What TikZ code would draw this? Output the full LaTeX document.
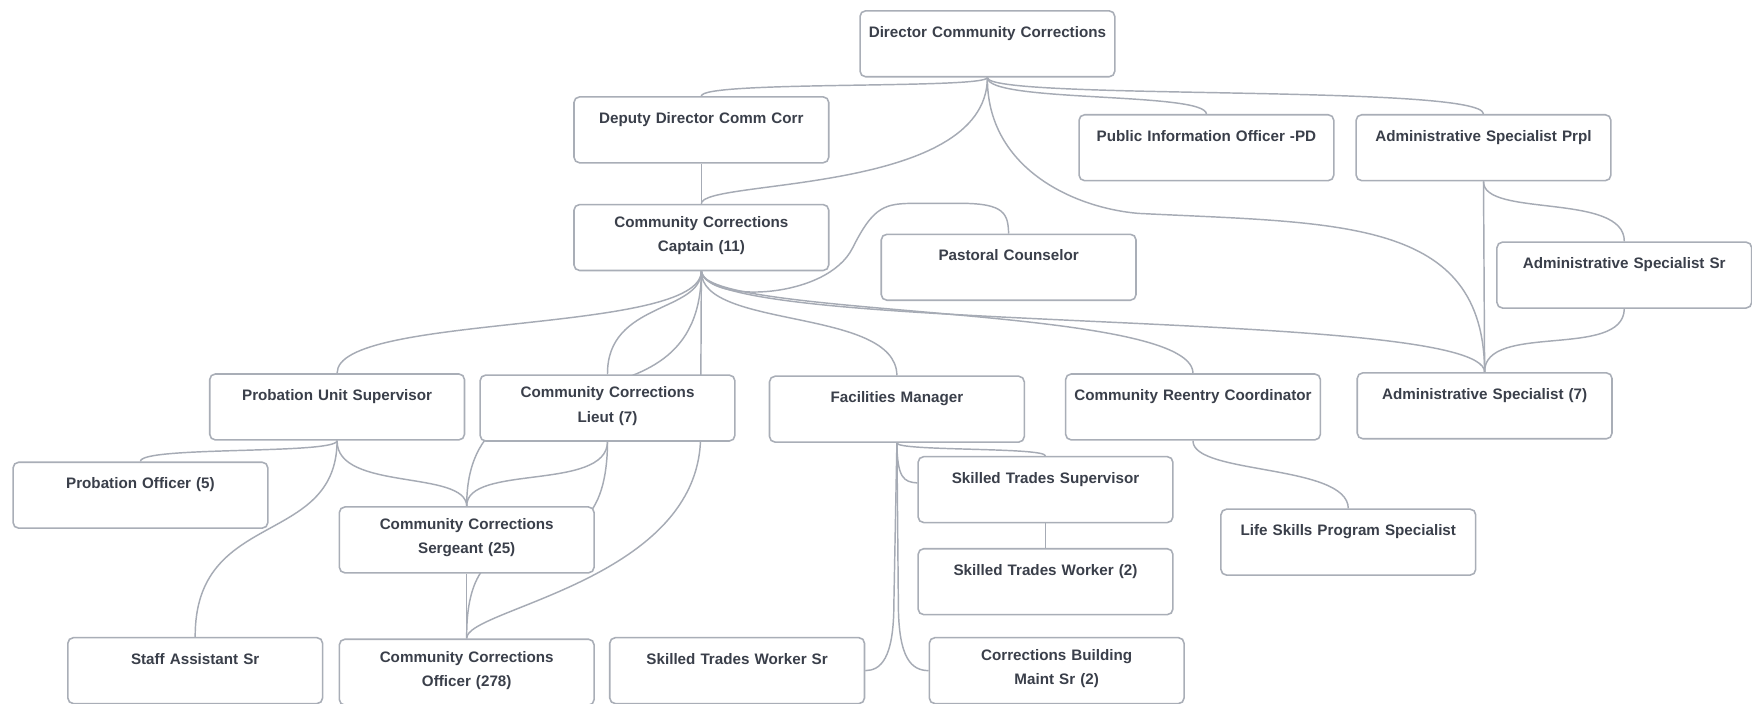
\documentclass[tikz,border=0pt]{standalone}
\usepackage{fontspec}
\setmainfont{Liberation Sans}
\usepackage{tikz}
\usetikzlibrary{positioning, backgrounds}
\definecolor{grisBorde}{HTML}{A9AEB7}
\definecolor{grisEnlace}{HTML}{A6ABB5}
\definecolor{textoCaja}{HTML}{3A3F4A}

\begin{document}
\begin{tikzpicture}[
        x=0.5pt, y=-0.5pt,
        caja/.style={draw=grisBorde, fill=white, line width=0.7pt, rounded corners=2.5pt,
            anchor=north west, text width=110pt, inner xsep=2pt, inner ysep=0pt, align=center,
            text height=11.9pt, text depth=17.6pt, text=textoCaja,
            font=\bfseries\fontsize{6.8}{10.8}\selectfont},
        cajad/.style={caja, text height=10.2pt, text depth=19.3pt},
        enlace/.style={draw=grisEnlace, line width=0.65pt}
    ]
        \path[use as bounding box] (0,0) rectangle (1568,630);

        \node[caja] (dir) at (769,9) {Director Community Corrections};
        \node[caja] (dep) at (513,86) {Deputy Director Comm Corr};
        \node[caja] (pio) at (965,102) {Public Information Officer -PD};
        \node[caja] (aprpl) at (1213,102) {Administrative Specialist Prpl};
        \node[cajad, below=18pt of dep] (capt) {Community Corrections\\Captain (11)};
        \node[caja] (past) at (788,209) {Pastoral Counselor};
        \node[caja] (asr) at (1339,216) {Administrative Specialist Sr};
        \node[caja] (psup) at (187,334) {Probation Unit Supervisor};
        \node[cajad] (lieut) at (429,335) {Community Corrections\\Lieut (7)};
        \node[caja] (fac) at (688,336) {Facilities Manager};
        \node[caja] (reen) at (953,334) {Community Reentry Coordinator};
        \node[caja] (adm7) at (1214,333) {Administrative Specialist (7)};
        \node[caja] (poff) at (11,413) {Probation Officer (5)};
        \node[caja] (stsup) at (821,408) {Skilled Trades Supervisor};
        \node[cajad] (serg) at (303,453) {Community Corrections\\Sergeant (25)};
        \node[caja] (life) at (1092,455) {Life Skills Program Specialist};
        \node[caja, below=11pt of stsup] (stw2) {Skilled Trades Worker (2)};
        \node[caja] (staff) at (60,570) {Staff Assistant Sr};
        \node[cajad, below=29pt of serg] (off) {Community Corrections\\Officer (278)};
        \node[caja] (stwsr) at (545,570) {Skilled Trades Worker Sr};
        \node[cajad] (cbm) at (831,570) {Corrections Building\\Maint Sr (2)};

        \begin{scope}[on background layer]
            \fill[white] (0,0) rectangle (1568,630);
            \draw[enlace] (dir.south) .. controls (883,80) and (627,72) .. (dep.north);
            \draw[enlace] (dir.south) .. controls (883,175) and (627,160) .. (capt.north);
            \draw[enlace] (dir.south) .. controls (883,92) and (1079,82) .. (pio.north);
            \draw[enlace] (dir.south) .. controls (883,90) and (1327,75) .. (aprpl.north);
            \draw[enlace] (dir.south) .. controls (883,150) and (960,186) .. (1019,191)
                .. controls (1200,200) and (1328,195) .. (adm7.north);
            \draw[enlace] (dep.south) -- (capt.north);
            \draw[enlace] (capt.south) .. controls (635,272) and (740,268) .. (763,222)
                .. controls (782,184) and (792,182) .. (820,182) -- (860,182)
                .. controls (900,182) and (902,192) .. (past.north);
            \draw[enlace] (capt.south) .. controls (627,300) and (301,280) .. (psup.north);
            \draw[enlace] (capt.south) .. controls (627,280) and (543,270) .. (lieut.north);
            \draw[enlace] (capt.south) .. controls (627,400) and (417,300) .. (serg.north);
            \draw[enlace] (capt.south) -- (627,390) .. controls (627,520) and (416,545) .. (off.north);
            \draw[enlace] (capt.south) .. controls (627,295) and (802,275) .. (fac.north);
            \draw[enlace] (capt.south) .. controls (627,285) and (1067,272) .. (reen.north);
            \draw[enlace] (capt.south) .. controls (627,300) and (1328,275) .. (adm7.north);
            \draw[enlace] (psup.south) .. controls (301,407) and (125,399) .. (poff.north);
            \draw[enlace] (psup.south) .. controls (301,440) and (417,420) .. (serg.north);
            \draw[enlace] (psup.south) .. controls (301,490) and (174,455) .. (staff.north);
            \draw[enlace] (lieut.south) .. controls (543,440) and (417,415) .. (serg.north);
            \draw[enlace] (lieut.south) .. controls (543,540) and (416,430) .. (off.north);
            \draw[enlace] (serg.south) -- (off.north);
            \draw[enlace] (fac.south) .. controls (802,404) and (935,400) .. (stsup.north);
            \draw[enlace] (fac.south) .. controls (803,428) and (809,431.5) .. ([yshift=3pt]stsup.west);
            \draw[enlace] (stsup.south) -- (stw2.north);
            \draw[enlace] (fac.south) -- (800,540) .. controls (800,590) and (788,600) .. (stwsr.east);
            \draw[enlace] (fac.south) -- (804,540) .. controls (804,590) and (816,600) .. (cbm.west);
            \draw[enlace] (reen.south) .. controls (1067,425) and (1206,415) .. (life.north);
            \draw[enlace] (aprpl.south) -- (adm7.north);
            \draw[enlace] (aprpl.south) .. controls (1327,195) and (1454,172) .. (asr.north);
            \draw[enlace] (asr.south) .. controls (1453,322) and (1328,288) .. (adm7.north);
        \end{scope}
    \end{tikzpicture}
\end{document}
